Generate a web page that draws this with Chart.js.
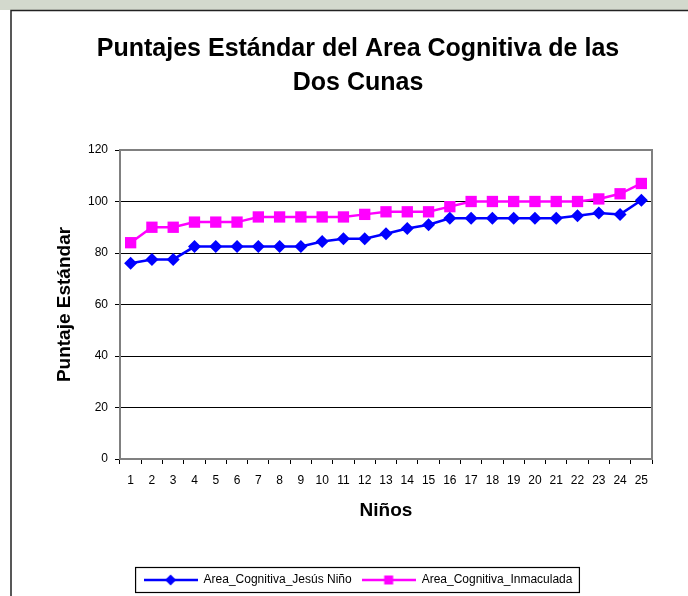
<!DOCTYPE html>
<html>
<head>
<meta charset="utf-8">
<title>Puntajes Estándar del Area Cognitiva de las Dos Cunas</title>
<script src="https://cdn.jsdelivr.net/npm/chart.js@4"></script>
<style>
    html, body { margin: 0; padding: 0; overflow: hidden; background: #fff; }
    canvas { display: block; }
</style>
</head>
<body>
<canvas id="cunasChart" width="705" height="596"></canvas>
<script>
const ninos = ['1', '2', '3', '4', '5', '6', '7', '8', '9', '10', '11', '12', '13',
               '14', '15', '16', '17', '18', '19', '20', '21', '22', '23', '24', '25'];
const jesusNino = [76, 77.5, 77.5, 82.5, 82.5, 82.5, 82.5, 82.5, 82.5, 84.5, 85.5, 85.5, 87.5,
                   89.5, 91, 93.5, 93.5, 93.5, 93.5, 93.5, 93.5, 94.5, 95.5, 95, 100.5];
const inmaculada = [84, 90, 90, 92, 92, 92, 94, 94, 94, 94, 94, 95, 96,
                    96, 96, 98, 100, 100, 100, 100, 100, 100, 101, 103, 107];
const yTicks = [0, 20, 40, 60, 80, 100, 120];

const FONT = '"Liberation Sans", Arial, sans-serif';

// Small canvas with a line and a marker, used as legend symbol
function legendSymbol(color, shape) {
    const c = document.createElement('canvas');
    c.width = 54;
    c.height = 14;
    const g = c.getContext('2d');
    g.strokeStyle = color;
    g.fillStyle = color;
    g.lineWidth = 2.5;
    g.beginPath();
    g.moveTo(0, 7);
    g.lineTo(54, 7);
    g.stroke();
    g.beginPath();
    if (shape === 'diamond') {
        g.moveTo(27, 1.5); g.lineTo(32.5, 7); g.lineTo(27, 12.5); g.lineTo(21.5, 7);
    } else {
        g.rect(22.5, 2.5, 9, 9);
    }
    g.closePath();
    g.fill();
    return c;
}

// Page background, outer border, plot frame and legend box
const excelLook = {
    id: 'excelLook',
    beforeDraw(chart) {
        const {ctx, width, height} = chart;
        ctx.save();
        ctx.fillStyle = '#ffffff';
        ctx.fillRect(0, 0, width, height);
        ctx.fillStyle = '#d3d9cd';
        ctx.fillRect(0, 0, width, 10);
        ctx.strokeStyle = '#222';
        ctx.lineWidth = 1.5;
        ctx.beginPath();
        ctx.moveTo(11, height);
        ctx.lineTo(11, 10.5);
        ctx.lineTo(width, 10.5);
        ctx.stroke();
        ctx.restore();
    },
    beforeDatasetsDraw(chart) {
        const {ctx, chartArea: a} = chart;
        ctx.save();
        ctx.strokeStyle = '#808080';
        ctx.lineWidth = 2;
        ctx.strokeRect(a.left, a.top, a.right - a.left, a.bottom - a.top);
        ctx.restore();
    },
    afterDraw(chart) {
        const hb = chart.legend.legendHitBoxes;
        if (!hb || !hb.length) return;
        const last = hb[hb.length - 1];
        const cy = hb[0].top + hb[0].height / 2;
        const ctx = chart.ctx;
        ctx.save();
        ctx.strokeStyle = '#000';
        ctx.lineWidth = 1.2;
        ctx.strokeRect(hb[0].left - 8, cy - 12.5, last.left + last.width + 15 - hb[0].left, 25);
        ctx.restore();
    }
};

const ctx = document.getElementById('cunasChart').getContext('2d');

new Chart(ctx, {
    type: 'line',
    data: {
        labels: ninos,
        datasets: [{
            label: 'Area_Cognitiva_Jesús Niño',
            data: jesusNino,
            borderColor: '#0000ff',
            backgroundColor: '#0000ff',
            borderWidth: 2.5,
            pointStyle: 'rectRot',
            pointRadius: 6.5,
            pointBorderWidth: 0,
            tension: 0
        }, {
            label: 'Area_Cognitiva_Inmaculada',
            data: inmaculada,
            borderColor: '#ff00ff',
            backgroundColor: '#ff00ff',
            borderWidth: 2.5,
            pointStyle: 'rect',
            pointRadius: 8,
            pointBorderWidth: 0,
            tension: 0
        }]
    },
    options: {
        responsive: false,
        animation: false,
        devicePixelRatio: 1,
        layout: { padding: { left: 11, right: 0, top: 0, bottom: 0 } },
        plugins: {
            title: {
                display: true,
                text: ['Puntajes Estándar del Area Cognitiva de las', 'Dos Cunas'],
                color: '#000',
                font: { family: FONT, size: 25, weight: 'bold', lineHeight: 1.36 },
                padding: { top: 32, bottom: 50 }
            },
            legend: {
                position: 'bottom',
                labels: {
                    usePointStyle: true,
                    pointStyleWidth: 54,
                    padding: 10,
                    color: '#000',
                    font: { family: FONT, size: 12 },
                    generateLabels(chart) {
                        return chart.data.datasets.map((ds, i) => ({
                            text: ds.label,
                            pointStyle: legendSymbol(ds.borderColor, i === 0 ? 'diamond' : 'square'),
                            fillStyle: ds.borderColor,
                            strokeStyle: ds.borderColor,
                            lineWidth: 0,
                            hidden: false,
                            datasetIndex: i
                        }));
                    }
                }
            },
            tooltip: { enabled: false }
        },
        scales: {
            x: {
                offset: true,
                grid: {
                    offset: true,
                    drawOnChartArea: false,
                    tickLength: 5,
                    tickColor: '#000'
                },
                border: { display: false },
                ticks: {
                    color: '#000',
                    padding: 9,
                    maxRotation: 0,
                    autoSkip: false,
                    font: { family: FONT, size: 12 }
                },
                title: {
                    display: true,
                    text: 'Niños',
                    color: '#000',
                    font: { family: FONT, size: 19, weight: 'bold' },
                    padding: { top: 0, bottom: 42 }
                },
                afterFit(scale) { scale.height = 105; }
            },
            y: {
                min: 0,
                max: 120,
                afterBuildTicks(scale) { scale.ticks = yTicks.map(v => ({ value: v })); },
                grid: {
                    color: '#000',
                    lineWidth: 1,
                    tickLength: 5,
                    tickColor: '#000'
                },
                border: { display: false },
                ticks: {
                    color: '#000',
                    padding: 7,
                    font: { family: FONT, size: 12 }
                },
                title: {
                    display: true,
                    text: 'Puntaje Estándar',
                    color: '#000',
                    font: { family: FONT, size: 19, weight: 'bold' },
                    padding: { top: 42, bottom: 0 }
                },
                afterFit(scale) { scale.width = 109; }
            },
            // empty right axis: keeps the plot area off the right edge like the original
            y2: {
                position: 'right',
                grid: { display: false },
                border: { display: false },
                ticks: { display: false },
                afterFit(scale) { scale.width = 53; }
            }
        }
    },
    plugins: [excelLook]
});
</script>
</body>
</html>
